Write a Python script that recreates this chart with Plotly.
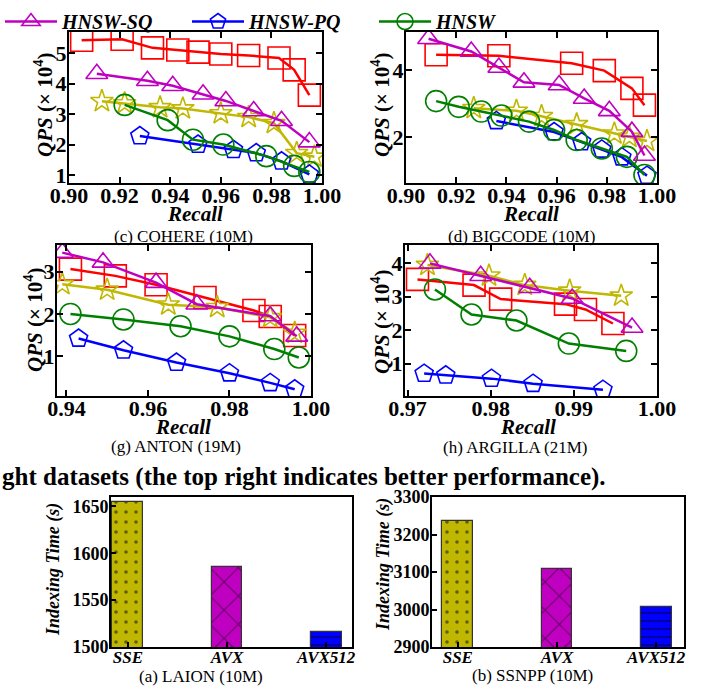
import plotly.graph_objects as go

# ---------------- data ----------------
# (c) COHERE (10M)
c_red_x = [0.905, 0.921, 0.933, 0.943, 0.951, 0.960, 0.971, 0.983, 0.989, 0.995]
c_red_y = [5.42, 5.45, 5.17, 5.10, 5.03, 4.97, 4.92, 4.84, 4.45, 3.62]
c_yel_x = [0.913, 0.922, 0.936, 0.945, 0.960, 0.971, 0.981, 0.990, 0.997]
c_yel_y = [3.42, 3.35, 3.22, 3.18, 3.02, 2.90, 2.70, 1.72, 1.60]
c_sq_x = [0.911, 0.931, 0.941, 0.953, 0.962, 0.973, 0.984, 0.995]
c_sq_y = [4.32, 4.09, 3.93, 3.65, 3.43, 3.10, 2.78, 2.08]
c_pq_x = [0.928, 0.951, 0.965, 0.974, 0.984, 0.995]
c_pq_y = [2.28, 2.00, 1.83, 1.72, 1.45, 1.02]
c_hn_x = [0.922, 0.939, 0.949, 0.961, 0.978, 0.989, 0.995]
c_hn_y = [3.30, 2.80, 2.16, 2.00, 1.62, 1.30, 1.10]

# (d) BIGCODE (10M)
d_red_x = [0.912, 0.937, 0.966, 0.979, 0.990, 0.995]
d_red_y = [4.45, 4.42, 4.20, 3.98, 3.45, 2.95]
d_yel_x = [0.927, 0.944, 0.954, 0.968, 0.983, 0.989, 0.996]
d_yel_y = [2.86, 2.78, 2.62, 2.38, 2.10, 2.00, 1.88]
d_sq_x = [0.909, 0.926, 0.937, 0.947, 0.961, 0.971, 0.981, 0.990, 0.995]
d_sq_y = [4.93, 4.55, 4.07, 3.63, 3.55, 3.15, 2.78, 2.16, 1.45]
d_pq_x = [0.936, 0.959, 0.970, 0.978, 0.986, 0.996]
d_pq_y = [2.48, 2.15, 1.85, 1.63, 1.40, 0.85]
d_hn_x = [0.912, 0.921, 0.930, 0.938, 0.949, 0.959, 0.968, 0.978, 0.988, 0.995]
d_hn_y = [3.07, 2.90, 2.76, 2.64, 2.46, 2.21, 1.91, 1.66, 1.41, 0.87]

# (g) ANTON (19M)
g_red_x = [0.941, 0.952, 0.962, 0.974, 0.986, 0.990, 0.996]
g_red_y = [3.06, 2.90, 2.69, 2.39, 2.08, 1.94, 1.49]
g_yel_x = [0.939, 0.950, 0.965, 0.977, 0.990, 0.996]
g_yel_y = [2.70, 2.57, 2.22, 2.16, 1.92, 1.55]
g_sq_x = [0.939, 0.949, 0.962, 0.972, 0.990, 0.9965]
g_sq_y = [3.45, 3.22, 2.74, 2.23, 1.95, 1.47]
g_pq_x = [0.943, 0.954, 0.967, 0.980, 0.990, 0.996]
g_pq_y = [1.42, 1.14, 0.85, 0.60, 0.37, 0.22]
g_hn_x = [0.941, 0.954, 0.968, 0.980, 0.991, 0.997]
g_hn_y = [2.00, 1.87, 1.71, 1.47, 1.17, 0.97]

# (h) ARGILLA (21M)
h_red_x = [0.9712, 0.9780, 0.9812, 0.9890, 0.9914, 0.9947]
h_red_y = [3.52, 3.35, 2.93, 2.78, 2.62, 2.20]
h_yel_x = [0.9724, 0.9798, 0.9841, 0.9895, 0.9957]
h_yel_y = [3.95, 3.63, 3.35, 3.18, 3.03]
h_sq_x = [0.9727, 0.9788, 0.9847, 0.9898, 0.9970]
h_sq_y = [4.00, 3.63, 3.27, 2.95, 2.08]
h_pq_x = [0.9720, 0.9746, 0.9801, 0.9851, 0.9935]
h_pq_y = [0.70, 0.65, 0.55, 0.40, 0.22]
h_hn_x = [0.9733, 0.9777, 0.9831, 0.9894, 0.9963]
h_hn_y = [3.22, 2.47, 2.29, 1.60, 1.38]

# bar charts: indexing time (s)
simd = ["SSE", "AVX", "AVX512"]
laion_time = [1655, 1585, 1516]
ssnpp_time = [3235, 3108, 3007]

# ---------------- styling ----------------
W, H = 714, 690
FONT = "Liberation Serif"
def px(x):
    return x / W
def py(y):
    return 1 - y / H

RED, YEL, MAG, BLU, GRN = "#ff0000", "#c0b800", "#c000c0", "#0000ff", "#008000"

series_style = {
    "red": dict(name="Method A", color=RED, symbol="square-open", size=22, legend=False, rank=4),
    "yel": dict(name="Method B", color=YEL, symbol="star-open", size=17, legend=False, rank=5),
    "pq": dict(name="HNSW-PQ", color=BLU, symbol="pentagon-open", size=19, legend=True, rank=2),
    "hn": dict(name="HNSW", color=GRN, symbol="circle-open", size=21, legend=True, rank=3),
    "sq": dict(name="HNSW-SQ", color=MAG, symbol="triangle-up-open", size=19, legend=True, rank=1),
}

panels = [
    ("x", "y", {"red": (c_red_x, c_red_y), "yel": (c_yel_x, c_yel_y), "pq": (c_pq_x, c_pq_y),
                "hn": (c_hn_x, c_hn_y), "sq": (c_sq_x, c_sq_y)}),
    ("x2", "y2", {"red": (d_red_x, d_red_y), "yel": (d_yel_x, d_yel_y), "pq": (d_pq_x, d_pq_y),
                  "hn": (d_hn_x, d_hn_y), "sq": (d_sq_x, d_sq_y)}),
    ("x3", "y3", {"red": (g_red_x, g_red_y), "yel": (g_yel_x, g_yel_y), "pq": (g_pq_x, g_pq_y),
                  "hn": (g_hn_x, g_hn_y), "sq": (g_sq_x, g_sq_y)}),
    ("x4", "y4", {"red": (h_red_x, h_red_y), "yel": (h_yel_x, h_yel_y), "pq": (h_pq_x, h_pq_y),
                  "hn": (h_hn_x, h_hn_y), "sq": (h_sq_x, h_sq_y)}),
]

fig = go.Figure()
for pi, (xa, ya, data) in enumerate(panels):
    for key in ["red", "yel", "pq", "hn", "sq"]:
        st = series_style[key]
        xs, ys = data[key]
        fig.add_trace(go.Scatter(
            x=xs, y=ys, xaxis=xa, yaxis=ya, mode="lines+markers",
            name=st["name"], legendgroup=st["name"], legendrank=st["rank"],
            showlegend=(pi == 0 and st["legend"]),
            line=dict(color=st["color"], width=2.5),
            marker=dict(symbol=st["symbol"], size=st["size"], color=st["color"],
                        line=dict(color=st["color"], width=1.6)),
        ))

bar_colors = [YEL, MAG, BLU]
bar_patterns = [dict(shape=".", fgcolor="black", bgcolor=YEL, size=10, solidity=0.1, fillmode="overlay"),
                dict(shape="x", fgcolor="black", bgcolor=MAG, size=20, solidity=0.1, fillmode="overlay"),
                dict(shape="-", fgcolor="black", bgcolor=BLU, size=8, solidity=0.18, fillmode="overlay")]
for xa, ya, vals in [("x5", "y5", laion_time), ("x6", "y6", ssnpp_time)]:
    for i, cat in enumerate(simd):
        fig.add_trace(go.Bar(
            x=[cat], y=[vals[i]], xaxis=xa, yaxis=ya, width=0.31, showlegend=False,
            name=cat,
            marker=dict(color=bar_colors[i], pattern=bar_patterns[i],
                        line=dict(color="#333333", width=1.2)),
        ))

def lin_axis(domain, rng, tickvals, fmt, anchor, standoff, size=22):
    return dict(domain=domain, range=rng, tickvals=tickvals, tickformat=fmt, anchor=anchor,
                automargin=False, ticklabelstandoff=standoff,
                showgrid=False, zeroline=False, showline=True, linecolor="black", linewidth=2,
                mirror="ticks", ticks="inside", ticklen=6, tickwidth=2, tickcolor="black",
                tickfont=dict(family=FONT, size=size, color="black", weight="bold"))

XT = [0.90, 0.92, 0.94, 0.96, 0.98, 1.00]
layout_axes = {
    "xaxis": lin_axis([px(69), px(322)], [0.90, 1.00], XT, ".2f", "y", -8),
    "yaxis": lin_axis([py(183), py(32)], [0.74, 5.69], [1, 2, 3, 4, 5], "d", "x", -4),
    "xaxis2": lin_axis([px(406), px(657)], [0.90, 1.00], XT, ".2f", "y2", -8),
    "yaxis2": lin_axis([py(183), py(32)], [0.63, 5.13], [2, 4], "d", "x2", -4),
    "xaxis3": lin_axis([px(57), px(311)], [0.9377, 1.0], [0.94, 0.96, 0.98, 1.00], ".2f", "y3", -8),
    "yaxis3": lin_axis([py(396), py(245)], [0.06, 3.63], [1, 2, 3], "d", "x3", -4),
    "xaxis4": lin_axis([px(405), px(657)], [0.9697, 1.0], [0.97, 0.98, 0.99, 1.00], ".2f", "y4", -8),
    "yaxis4": lin_axis([py(396), py(245)], [0.03, 4.55], [1, 2, 3, 4], "d", "x4", -4),
}

def bar_x(domain, rng, anchor):
    return dict(domain=domain, range=rng, anchor=anchor, type="category", automargin=False,
                ticklabelstandoff=-6,
                showgrid=False, zeroline=False, showline=True, linecolor="black", linewidth=2,
                mirror=True, ticks="inside", ticklen=5, tickwidth=1.5, tickcolor="black",
                tickfont=dict(family=FONT, size=17, color="black", weight="bold", style="italic"))

def bar_y(domain, rng, tickvals, anchor):
    return dict(domain=domain, range=rng, tickvals=tickvals, anchor=anchor, automargin=False,
                ticklabelstandoff=-3,
                showgrid=False, zeroline=False, showline=True, linecolor="black", linewidth=2,
                mirror=True, ticks="inside", ticklen=5, tickwidth=1.5, tickcolor="black",
                tickfont=dict(family=FONT, size=18, color="black", weight="bold"))

layout_axes["xaxis5"] = bar_x([px(111), px(352)], [-0.17, 2.26], "y5")
layout_axes["yaxis5"] = bar_y([py(647), py(497)], [1500, 1660], [1500, 1550, 1600, 1650], "x5")
layout_axes["xaxis6"] = bar_x([px(432), px(684)], [-0.26, 2.28], "y6")
layout_axes["yaxis6"] = bar_y([py(647), py(497)], [2900, 3300], [2900, 3000, 3100, 3200, 3300], "x6")

ann = []
def text(x, y, s, size, bold=False, italic=False, angle=0, xanchor="center"):
    ann.append(dict(xref="paper", yref="paper", x=px(x), y=py(y), text=s, showarrow=False,
                    xanchor=xanchor, yanchor="middle", textangle=angle,
                    font=dict(family=FONT, size=size, color="black",
                              weight="bold" if bold else "normal",
                              style="italic" if italic else "normal")))

qps = "<i>QPS</i> (× 10<sup>4</sup>)"
# axis titles
text(195, 214, "<i>Recall</i>", 21, bold=True)
text(531, 214, "<i>Recall</i>", 21, bold=True)
text(183, 427, "<i>Recall</i>", 21, bold=True)
text(528, 427, "<i>Recall</i>", 21, bold=True)
text(43, 105, qps, 21, bold=True, angle=-90)
text(380, 105, qps, 21, bold=True, angle=-90)
text(33, 320, qps, 21, bold=True, angle=-90)
text(380, 322, qps, 21, bold=True, angle=-90)
text(53, 570, "Indexing Time (s)", 18, bold=True, italic=True, angle=-90)
text(383, 565, "Indexing Time (s)", 18, bold=True, italic=True, angle=-90)
# sub-captions
text(184, 236, "(c) COHERE (10M)", 17)
text(521, 236, "(d) BIGCODE (10M)", 17)
text(176, 446, "(g) ANTON (19M)", 17)
text(515, 447, "(h) ARGILLA (21M)", 17)
text(201, 676, "(a) LAION (10M)", 17)
text(532, 675, "(b) SSNPP (10M)", 17)
# figure caption fragment
text(608, 477, "ght datasets (the top right indicates better performance).", 25, bold=True, xanchor="right")

fig.update_layout(
    width=W, height=H, autosize=False,
    margin=dict(l=0, r=0, t=0, b=0, autoexpand=False),
    paper_bgcolor="white", plot_bgcolor="white",
    showlegend=True,
    legend=dict(orientation="h", x=px(0), y=py(2), xanchor="left", yanchor="top",
                itemwidth=52, entrywidth=120, entrywidthmode="pixels", bgcolor="rgba(0,0,0,0)",
                font=dict(family=FONT, size=20, color="black", weight="bold", style="italic"),
                traceorder="normal"),
    annotations=ann,
    bargap=0,
    **layout_axes,
)

fig.write_html("out.html", config={"displayModeBar": False},
               post_script="document.body.style.margin='0';document.body.style.overflow='hidden';")
